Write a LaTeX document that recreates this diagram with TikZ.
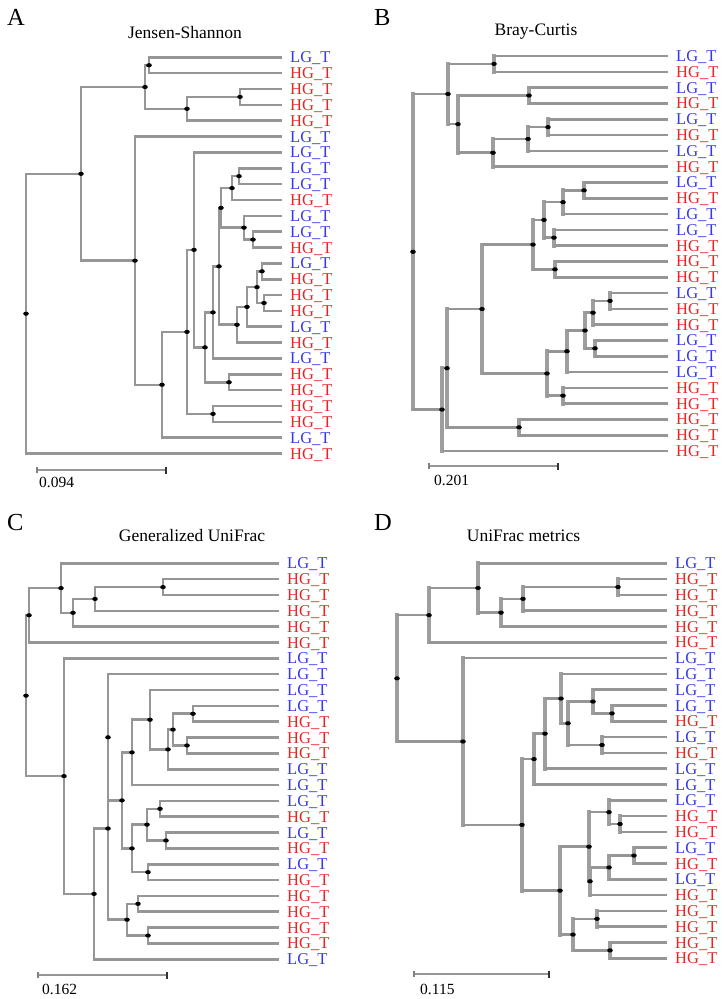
\documentclass[tikz,border=0pt]{standalone}
\usepackage{fontspec}
\setmainfont{Liberation Serif}
\usetikzlibrary{calc}
\definecolor{cL}{RGB}{55,55,235}
\definecolor{cH}{RGB}{235,35,35}
\definecolor{brgray}{RGB}{150,150,150}
\definecolor{bandgray}{RGB}{158,158,158}
% internal node: name, x, child1, child2
\newcommand\mkbr[4]{%
  \path let \p1=(#3), \p2=(#4) in coordinate (#1) at (#2pt,{0.5*\y1+0.5*\y2});
  \draw[vline] (#1 |- #3) -- (#1 |- #4);
  \draw[hline] (#1 |- #3) -- (#3);
  \draw[hline] (#1 |- #4) -- (#4);}
% leaves: prefix, x end, y0, step, list
\newcommand\mkleaves[5]{%
  \foreach \lb [count=\i] in {#5} {
    \coordinate (#1\i) at (#2,{#3+(\i-1)*#4});
    \node[lbl, text=c\lb] (#1l\i) at (#1\i) {\lb G\_T};
  }}
\newcommand\mkdots[2]{%
  \foreach \k in {1,...,#2} \fill[nodedot] (#1\k) ellipse [x radius=2.8pt, y radius=2.1pt];}
\begin{document}
\begin{tikzpicture}[x=1pt,y=-1pt,
  lbl/.style={anchor=base west, inner sep=0pt, xshift=8pt, yshift=-5.5pt, font=\fontsize{16.5}{18}\selectfont},
  ttl/.style={anchor=base, inner sep=0pt, font=\fontsize{17.5}{20}\selectfont},
  pl/.style={anchor=base west, inner sep=0pt, font=\fontsize{24.5}{28}\selectfont},
  sct/.style={anchor=base west, inner sep=0pt, font=\fontsize{15.5}{18}\selectfont},
  sbar/.style={draw=brgray, line width=2pt},
  tickL/.style={fill=gray, inner sep=0pt, minimum width=2.5pt, minimum height=6pt},
  tickR/.style={fill=black!80, inner sep=0pt, minimum width=1.5pt, minimum height=7pt},
  nodedot/.style={fill=black},
  thinbr/.style={vline/.style={draw=brgray, line width=2.6pt, line cap=rect},
                 hline/.style={draw=brgray, line width=2.6pt}},
  thickbr/.style={vline/.style={draw=bandgray, line width=3.8pt, line cap=rect},
                 hline/.style={draw=brgray, line width=2.6pt}}]
\fill[white] (0,0) rectangle (725,999);
\useasboundingbox (0,0) rectangle (725,999);

% ---------------- Panel A ----------------
\node[pl] (pA) at (7,25) {A};
\node[ttl] (tA) at (185,38.5) {Jensen-Shannon};
\begin{scope}[thinbr]
\mkleaves{A}{282}{57.3}{15.85}{L,H,H,H,H,L,L,L,L,H,L,L,H,L,H,H,H,L,H,L,H,H,H,H,L,H}
\mkbr{a1}{149}{A1}{A2}
\mkbr{a2}{240}{A3}{A4}
\mkbr{a3}{187}{a2}{A5}
\mkbr{a4}{145}{a1}{a3}
\mkbr{a5}{239}{A8}{A9}
\mkbr{a6}{232}{a5}{A10}
\mkbr{a7}{253}{A12}{A13}
\mkbr{a8}{244}{A11}{a7}
\mkbr{a9}{221}{a6}{a8}
\mkbr{a10}{262}{A14}{A15}
\mkbr{a11}{264}{A16}{A17}
\mkbr{a12}{257}{a10}{a11}
\mkbr{a13}{247}{a12}{A18}
\mkbr{a14}{237}{a13}{A19}
\mkbr{a15}{219}{a9}{a14}
\mkbr{a16}{213}{a15}{A20}
\mkbr{a17}{229}{A21}{A22}
\mkbr{a18}{205}{a16}{a17}
\mkbr{a19}{194}{A7}{a18}
\mkbr{a20}{213}{A23}{A24}
\mkbr{a21}{187}{a19}{a20}
\mkbr{a22}{162}{a21}{A25}
\mkbr{a23}{135}{A6}{a22}
\mkbr{a24}{81}{a4}{a23}
\mkbr{a25}{26}{a24}{A26}
\mkdots{a}{25}
\end{scope}
\coordinate (sa1) at (37,470); \coordinate (sa2) at (166,470);
\draw[sbar] (sa1) -- (sa2);
\node[tickL] (ta1) at (sa1) {}; \node[tickR] (ta2) at (sa2) {};
\node[sct] (sta) at (39,487) {0.094};

% ---------------- Panel B ----------------
\node[pl] (pB) at (374,25) {B};
\node[ttl] (tB) at (536,35) {Bray-Curtis};
\begin{scope}[thickbr]
\mkleaves{B}{668}{56}{15.8}{L,H,L,H,L,H,L,H,L,H,L,L,H,H,H,L,H,H,L,L,L,H,H,H,H,H}
\mkbr{b1}{494}{B1}{B2}
\mkbr{b2}{529}{B3}{B4}
\mkbr{b3}{548}{B5}{B6}
\mkbr{b4}{528}{b3}{B7}
\mkbr{b5}{493}{b4}{B8}
\mkbr{b6}{458}{b2}{b5}
\mkbr{b7}{448}{b1}{b6}
\mkbr{b8}{584}{B9}{B10}
\mkbr{b9}{563}{b8}{B11}
\mkbr{b10}{554}{B12}{B13}
\mkbr{b11}{544}{b9}{b10}
\mkbr{b12}{555}{B14}{B15}
\mkbr{b13}{533}{b11}{b12}
\mkbr{b14}{610}{B16}{B17}
\mkbr{b15}{593}{b14}{B18}
\mkbr{b16}{595}{B19}{B20}
\mkbr{b17}{585}{b15}{b16}
\mkbr{b18}{567}{b17}{B21}
\mkbr{b19}{563}{B22}{B23}
\mkbr{b20}{547}{b18}{b19}
\mkbr{b21}{482}{b13}{b20}
\mkbr{b22}{519}{B24}{B25}
\mkbr{b23}{447}{b21}{b22}
\mkbr{b24}{442}{b23}{B26}
\mkbr{b25}{413}{b7}{b24}
\mkdots{b}{25}
\end{scope}
\coordinate (sb1) at (429,466); \coordinate (sb2) at (558,466);
\draw[sbar] (sb1) -- (sb2);
\node[tickL] (tb1) at (sb1) {}; \node[tickR] (tb2) at (sb2) {};
\node[sct] (stb) at (434,485) {0.201};

% ---------------- Panel C ----------------
\node[pl] (pC) at (7,530) {C};
\node[ttl] (tC) at (192,541.5) {Generalized UniFrac};
\begin{scope}[thinbr]
\mkleaves{C}{279}{563.3}{15.84}{L,H,H,H,H,H,L,L,L,L,H,H,H,L,L,L,H,L,H,L,H,H,H,H,H,L}
\mkbr{c1}{163}{C2}{C3}
\mkbr{c2}{95}{c1}{C4}
\mkbr{c3}{73}{c2}{C5}
\mkbr{c4}{61}{C1}{c3}
\mkbr{c5}{29}{c4}{C6}
\mkbr{c6}{193}{C10}{C11}
\mkbr{c7}{187}{C12}{C13}
\mkbr{c8}{173}{c6}{c7}
\mkbr{c9}{168}{c8}{C14}
\mkbr{c10}{150}{C9}{c9}
\mkbr{c11}{132}{c10}{C15}
\mkbr{c12}{160}{C16}{C17}
\mkbr{c13}{166}{C18}{C19}
\mkbr{c14}{147}{c12}{c13}
\mkbr{c15}{148}{C20}{C21}
\mkbr{c16}{132}{c14}{c15}
\mkbr{c17}{122}{c11}{c16}
\mkbr{c18}{108}{C8}{c17}
\mkbr{c19}{138}{C22}{C23}
\mkbr{c20}{148}{C24}{C25}
\mkbr{c21}{127}{c19}{c20}
\mkbr{c22}{108}{c18}{c21}
\mkbr{c23}{94}{c22}{C26}
\mkbr{c24}{64}{C7}{c23}
\mkbr{c25}{26}{c5}{c24}
\mkdots{c}{25}
\end{scope}
\coordinate (sc1) at (38,975); \coordinate (sc2) at (167,975);
\draw[sbar] (sc1) -- (sc2);
\node[tickL] (tc1) at (sc1) {}; \node[tickR] (tc2) at (sc2) {};
\node[sct] (stc) at (42,994) {0.162};

% ---------------- Panel D ----------------
\node[pl] (pD) at (374,530) {D};
\node[ttl] (tD) at (523.5,541.5) {UniFrac metrics};
\begin{scope}[thickbr]
\mkleaves{D}{667}{563.3}{15.8}{L,H,H,H,H,H,L,L,L,L,H,L,H,L,L,L,H,H,L,H,L,H,H,H,H,H}
\mkbr{d1}{618}{D2}{D3}
\mkbr{d2}{523}{d1}{D4}
\mkbr{d3}{501}{d2}{D5}
\mkbr{d4}{478}{D1}{d3}
\mkbr{d5}{429}{d4}{D6}
\mkbr{d6}{612}{D10}{D11}
\mkbr{d7}{593}{D9}{d6}
\mkbr{d8}{602}{D12}{D13}
\mkbr{d9}{568}{d7}{d8}
\mkbr{d10}{561}{D8}{d9}
\mkbr{d11}{545}{d10}{D14}
\mkbr{d12}{534}{d11}{D15}
\mkbr{d13}{620}{D17}{D18}
\mkbr{d14}{609}{D16}{d13}
\mkbr{d15}{634}{D19}{D20}
\mkbr{d16}{609}{d15}{D21}
\mkbr{d17}{590}{d16}{D22}
\mkbr{d18}{589}{d14}{d17}
\mkbr{d19}{597}{D23}{D24}
\mkbr{d20}{610}{D25}{D26}
\mkbr{d21}{573}{d19}{d20}
\mkbr{d22}{560}{d18}{d21}
\mkbr{d23}{522}{d12}{d22}
\mkbr{d24}{463}{D7}{d23}
\mkbr{d25}{397}{d5}{d24}
\mkdots{d}{25}
\end{scope}
\coordinate (sd1) at (414,974); \coordinate (sd2) at (549,974);
\draw[sbar] (sd1) -- (sd2);
\node[tickL] (td1) at (sd1) {}; \node[tickR] (td2) at (sd2) {};
\node[sct] (std) at (420,994) {0.115};
\end{tikzpicture}
\end{document}
